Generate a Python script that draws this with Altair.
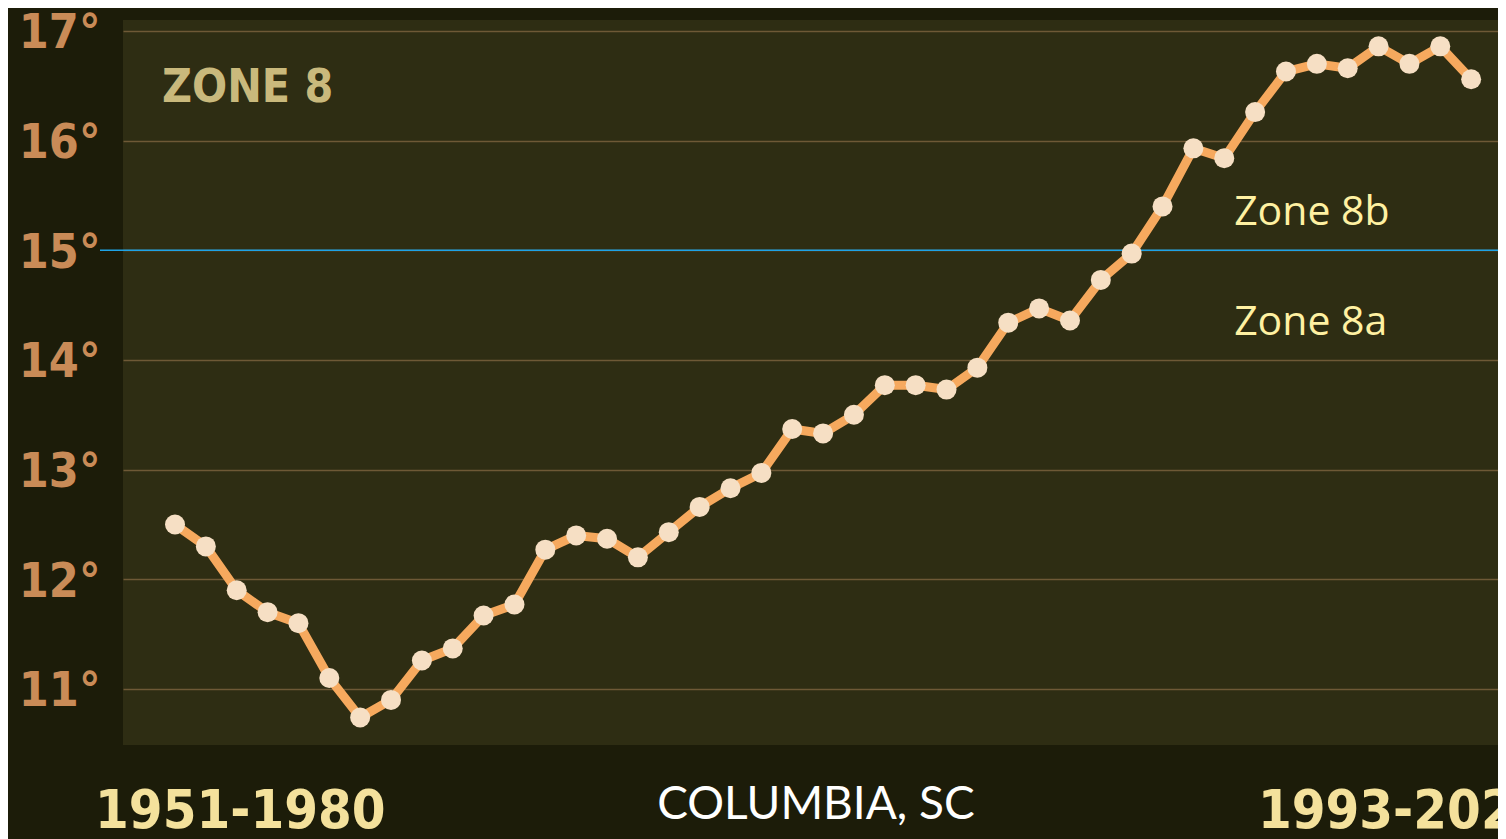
import altair as alt
import pandas as pd

end_years = list(range(1980, 2023))
temps = [12.50, 12.30, 11.90, 11.70, 11.60, 11.10, 10.74, 10.90, 11.26, 11.37,
         11.67, 11.77, 12.27, 12.40, 12.37, 12.20, 12.43, 12.66, 12.83, 12.97,
         13.37, 13.33, 13.50, 13.77, 13.77, 13.73, 13.93, 14.34, 14.47, 14.36,
         14.73, 14.97, 15.40, 15.93, 15.84, 16.26, 16.63, 16.70, 16.66, 16.86,
         16.70, 16.86, 16.56]
y_ticks = [11, 12, 13, 14, 15, 16, 17]
zone_boundary = [15.0]

# annotation texts with anchor (year, temp)
zone_title = ["ZONE 8"]
zone_title_pos = [(1979.58, 16.35)]
zone_labels = ["Zone 8b", "Zone 8a"]
zone_label_pos = [(2014.32, 15.23), (2014.32, 14.23)]
period_labels = ["1951-1980", "1993-2022"]
period_pos = [(1977.41, 9.73), (2015.09, 9.73)]
city = ["COLUMBIA, SC"]
city_pos = [(2000.77, 9.81)]

COND = "'DejaVu Sans Condensed', 'DejaVu Sans'"

df = pd.DataFrame({"year": end_years, "temp": temps})

xs = alt.Scale(domain=[1978.315, 2022.87], nice=False, zero=False)
ys = alt.Scale(domain=[10.489, 17.10], nice=False, zero=False)

y_axis = alt.Axis(values=y_ticks, labelExpr="datum.value + '°'", domain=False, ticks=False,
                  grid=True, gridColor="#6e5936", gridWidth=1.6, title=None,
                  labelFont=COND, labelFontWeight="bold",
                  labelFontSize=48, labelColor="#c98b57", labelPadding=23,
                  labelBaseline="middle", labelOffset=3)

X = lambda f: alt.X(f, scale=xs, axis=None)
Y = lambda f: alt.Y(f, scale=ys, axis=y_axis)


def text_layer(texts, pos, **kw):
    d = pd.DataFrame({"t": texts, "x": [p[0] for p in pos], "y": [p[1] for p in pos]})
    return alt.Chart(d).mark_text(clip=False, **kw).encode(
        x=X("x:Q"), y=Y("y:Q"), text="t:N")


base_line = alt.Chart(df).mark_line(color="#f6a95e", strokeWidth=9, strokeJoin="round").encode(
    x=X("year:Q"), y=Y("temp:Q"))
points = alt.Chart(df).mark_point(filled=True, fill="#f6dfc4", opacity=1, size=400, strokeWidth=0).encode(
    x=X("year:Q"), y=Y("temp:Q"))

rule_df = pd.DataFrame({"v": zone_boundary})
rule = alt.Chart(rule_df).mark_rule(color="#1ea3e6", strokeWidth=1.4, clip=False).encode(
    y=Y("v:Q"), x=alt.value(-23), x2=alt.value(1375))

layers = [
    base_line,
    rule,
    points,
    text_layer(zone_title, zone_title_pos, align="left", baseline="alphabetic",
               font=COND, fontWeight="bold", fontSize=46, color="#c9b97c"),
    text_layer(zone_labels, zone_label_pos, align="left", baseline="alphabetic",
               font="Open Sans", fontSize=41, color="#fff1a2"),
    text_layer(period_labels, period_pos, align="left", baseline="alphabetic",
               font=COND, fontWeight="bold", fontSize=54, color="#f4e19c"),
    text_layer(city, city_pos, align="center", baseline="alphabetic",
               font="Lato", fontSize=46, color="#ffffff"),
]

chart = alt.layer(*layers).properties(
    width=1375, height=725,
    autosize=alt.AutoSizeParams(type="none"),
    padding={"left": 115, "top": 12, "right": 0, "bottom": 94},
    background="#1c1c09",
).configure_view(fill="#2e2d13", stroke=None)

chart.save("out.html", embed_options={"renderer": "svg", "actions": False})
